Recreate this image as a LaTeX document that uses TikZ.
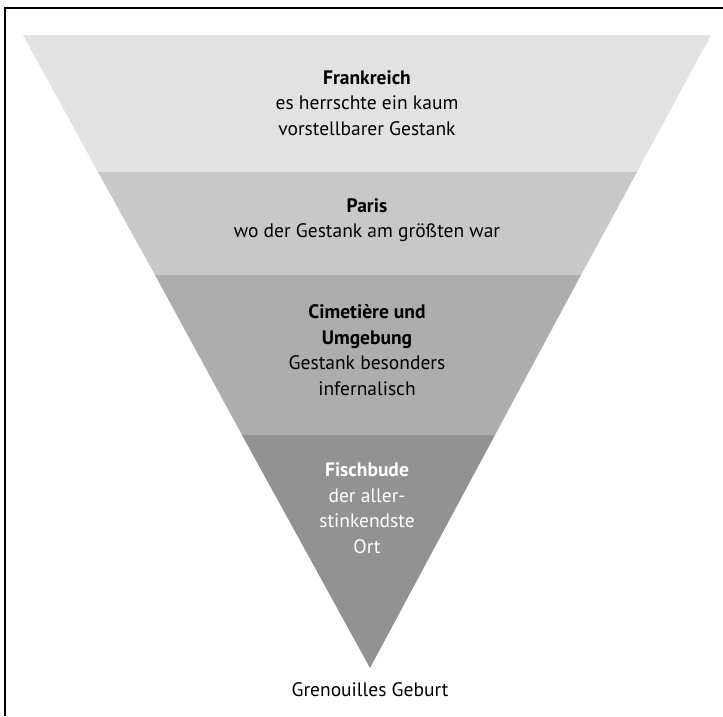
\documentclass[tikz,border=0pt]{standalone}
\usepackage{fontspec}
\setmainfont{PT Sans}
\usepackage{tikz}
\pgfdeclarelayer{bg}
\pgfsetlayers{bg,main}
\definecolor{lev0}{HTML}{E2E2E2}
\definecolor{lev1}{HTML}{C8C8C8}
\definecolor{lev2}{HTML}{ADADAD}
\definecolor{lev3}{HTML}{929292}

\begin{document}
\begin{tikzpicture}[x=1pt,y=-1pt,
        txt/.style={align=center,font=\fontsize{19.5}{25.5}\selectfont}]
        \useasboundingbox (0,0) rectangle (723,716);
        \draw [line width=1.2pt] (5,716) -- (5,8) -- (723,8);
        \coordinate (c0l) at (23,35);
        \coordinate (c0r) at (711,35);
        \coordinate (c1l) at (98,172);
        \coordinate (c1r) at (637,172);
        \coordinate (c2l) at (155,275);
        \coordinate (c2r) at (581,275);
        \coordinate (c3l) at (242,435);
        \coordinate (c3r) at (495,435);
        \coordinate (tip) at (370,668);
        \node (v0) [txt] at (367,103) {\textbf{Frankreich}\\es herrschte ein kaum\\vorstellbarer Gestank};
        \node (v1) [txt] at (367,220) {\textbf{Paris}\\wo der Gestank am größten war};
        \node (v2) [txt] at (367,350) {\textbf{Cimetière und}\\\textbf{Umgebung}\\Gestank besonders\\infernalisch};
        \node (v3) [txt, text=white] at (367,508) {\textbf{Fischbude}\\der aller-\\stinkendste\\Ort};
        \node (v4) [txt] at (370,690) {Grenouilles Geburt};
        \begin{pgfonlayer}{bg}
                \fill [lev0] (c0l) -- (c0r) -- (c1r) -- (c1l) -- cycle;
                \fill [lev1] (c1l) -- (c1r) -- (c2r) -- (c2l) -- cycle;
                \fill [lev2] (c2l) -- (c2r) -- (c3r) -- (c3l) -- cycle;
                \fill [lev3] (c3l) -- (c3r) -- (tip) -- cycle;
        \end{pgfonlayer}
\end{tikzpicture}
\end{document}
